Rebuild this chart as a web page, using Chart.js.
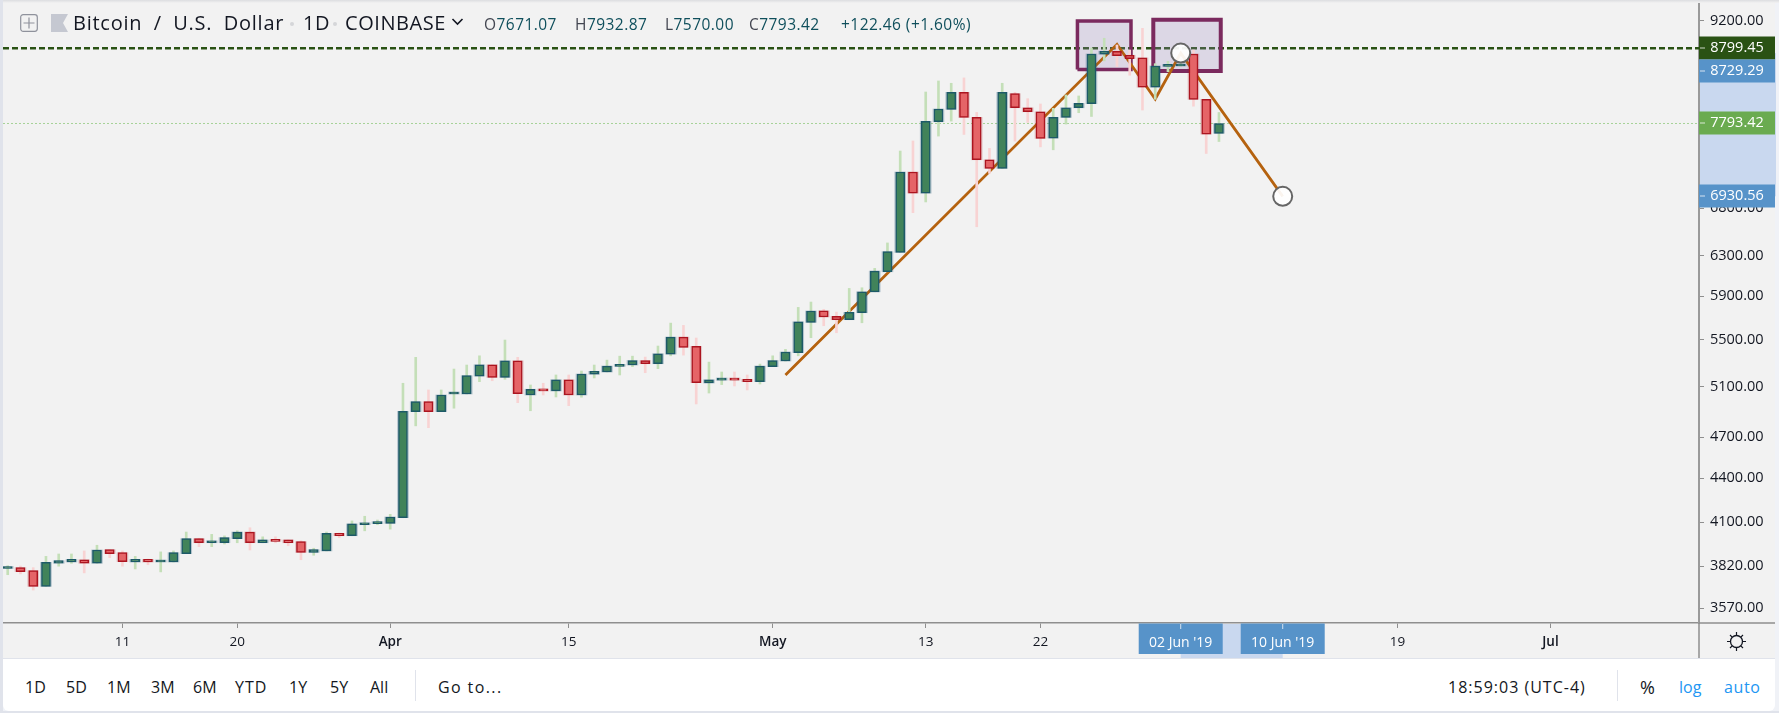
<!DOCTYPE html>
<html><head><meta charset="utf-8">
<script src="https://cdn.jsdelivr.net/npm/chart.js@4"></script>
<style>
html,body{margin:0;padding:0;background:#f0f2f7;overflow:hidden}
#wrap{position:relative;width:1779px;height:713px;font-family:"Open Sans",sans-serif;color:#131722}
#bg{position:absolute;left:3px;top:0;width:1772px;height:658px;background:#f2f2f2}
#topedge{position:absolute;left:0;top:0;width:1779px;height:3px;background:linear-gradient(#dcdde0,#f2f2f2)}
#leftedge{position:absolute;left:0;top:0;width:3px;height:713px;background:#e0e3eb}
#toolbar{position:absolute;left:3px;top:658px;width:1772px;height:53px;background:#fff;border-top:1px solid #e0e3eb;box-sizing:border-box;border-radius:0 0 6px 6px}
#botedge{position:absolute;left:0;top:711px;width:1779px;height:2px;background:#e0e3eb}
canvas{position:absolute;left:0;top:0}
.t{position:absolute;white-space:nowrap;line-height:20px;height:20px}
.h{font-size:20px;top:13px;color:#131722;letter-spacing:.45px}
.o{font-size:15.5px;top:14px;color:#0f4f5c;letter-spacing:.45px}
.o b{font-weight:400;color:#434651}
.b{font-size:16px;top:677px;color:#131722}
.sep{position:absolute;width:1px;background:#e0e3eb}
svg{position:absolute}
</style></head><body>
<div id="wrap">
<div id="bg"></div>
<canvas id="c" width="1779" height="713" style="width:1779px;height:713px"></canvas>
<div id="topedge"></div><div id="leftedge"></div><div id="toolbar"></div><div id="botedge"></div>

<svg style="left:20px;top:14px" width="18" height="18" viewBox="0 0 18 18"><rect x="0.7" y="0.7" width="16.6" height="16.6" rx="2.5" fill="none" stroke="#8f929c" stroke-width="1.2"/><path d="M9 3.5V14.5M3.5 9H14.5" stroke="#8f929c" stroke-width="1.2"/></svg>
<svg style="left:51px;top:14px" width="18" height="18" viewBox="0 0 18 18"><path d="M0 0H17L12 9L17 18H0Z" fill="#c5c8d1"/></svg>
<span class="t h" style="left:73px;letter-spacing:.75px;word-spacing:5.5px">Bitcoin / U.S. Dollar</span>
<svg style="left:289px;top:21px" width="6" height="6"><circle cx="3" cy="3" r="2" fill="#d5d6d9"/></svg>
<span class="t h" style="left:303px">1D</span>
<svg style="left:332px;top:21px" width="6" height="6"><circle cx="3" cy="3" r="2" fill="#d5d6d9"/></svg>
<span class="t h" style="left:345px;letter-spacing:.55px">COINBASE</span>
<svg style="left:451px;top:17px" width="13" height="9" viewBox="0 0 13 9"><path d="M1.5 2L6.5 7L11.5 2" fill="none" stroke="#131722" stroke-width="1.6"/></svg>
<span class="t o" style="left:484px"><b>O</b>7671.07</span>
<span class="t o" style="left:575px"><b>H</b>7932.87</span>
<span class="t o" style="left:665px"><b>L</b>7570.00</span>
<span class="t o" style="left:749px"><b>C</b>7793.42</span>
<span class="t o" style="left:841px">+122.46 (+1.60%)</span>

<span class="t b" style="left:25px">1D</span>
<span class="t b" style="left:66px">5D</span>
<span class="t b" style="left:107px">1M</span>
<span class="t b" style="left:151px">3M</span>
<span class="t b" style="left:193px">6M</span>
<span class="t b" style="left:235px;letter-spacing:1px">YTD</span>
<span class="t b" style="left:289px">1Y</span>
<span class="t b" style="left:330px">5Y</span>
<span class="t b" style="left:370px">All</span>
<div class="sep" style="left:415px;top:670px;height:31px"></div>
<span class="t b" style="left:438px;letter-spacing:1.4px">Go to...</span>
<span class="t b" style="left:1448px;letter-spacing:1px">18:59:03 (UTC-4)</span>
<div class="sep" style="left:1617px;top:670px;height:31px"></div>
<span class="t b" style="left:1640px;font-size:18px">%</span>
<span class="t b" style="left:1679px;color:#2196f3">log</span>
<span class="t b" style="left:1724px;color:#2196f3;letter-spacing:.6px">auto</span>
<svg style="left:1726px;top:631px" width="21" height="21" viewBox="0 0 21 21"><circle cx="10.5" cy="10.5" r="6" fill="none" stroke="#131722" stroke-width="1.3"/><path d="M10.5 1V4.5M10.5 16.5V20M4 4L6.2 6.2M17 4L14.8 6.2M4 17L6.2 14.8M17 17L14.8 14.8M1 10.5H4.5M16.5 10.5H20" stroke="#131722" stroke-width="1.2"/></svg>
</div>
<script>
const opens=[3805,3810,3792,3697,3837,3845,3859,3837,3922,3903,3845,3861,3845,3845,3897,3992,3966,3966,3992,4035,3966,3984,3984,3973,3905,3914,4026,4011,4083,4090,4092,4129,4899,4978,4899,5040,5040,5188,5283,5177,5317,5032,5079,5065,5157,5032,5203,5222,5270,5281,5320,5292,5375,5524,5442,5130,5153,5172,5161,5141,5267,5315,5387,5657,5763,5712,5681,5745,5942,6137,6332,7207,6967,7815,7973,8195,7870,7351,7250,8177,7993,7942,7612,7870,7993,8046,8713,8755,8699,8662,8262,8544,8550,8717,8103,7671.07];
const closes=[3811,3786,3697,3843,3853,3861,3837,3920,3897,3847,3861,3845,3853,3903,3992,3966,3975,3999,4035,3966,3984,3975,3966,3905,3922,4026,4011,4088,4096,4099,4134,4902,4978,4899,5032,5046,5191,5283,5177,5317,5043,5079,5065,5157,5032,5205,5228,5272,5287,5320,5292,5378,5524,5434,5133,5157,5172,5153,5141,5272,5320,5393,5662,5761,5706,5681,5748,5942,6144,6339,7207,6967,7820,7977,8195,7870,7351,7250,8195,7993,7942,7608,7870,7993,8051,8717,8755,8693,8652,8262,8550,8554,8568,8103,7661,7793.42];
const highs=[3822,3820,3810,3880,3895,3895,3914,3950,3922,3914,3880,3863,3908,3914,4035,3995,4020,4010,4043,4063,4004,4004,3984,3979,3931,4035,4028,4108,4139,4114,4152,5128,5347,5073,5073,5247,5281,5360,5283,5498,5347,5114,5128,5197,5197,5230,5281,5323,5357,5357,5349,5445,5650,5629,5516,5306,5222,5222,5197,5289,5360,5416,5795,5845,5777,5751,5975,5981,6171,6429,7455,7577,8199,8346,8315,8387,7934,7487,8315,8195,8111,8042,7986,8160,8147,8802,8940,8844,8773,9085,8582,8614,8634,8773,8103,7932.87];
const lows=[3767,3772,3675,3697,3819,3837,3778,3837,3872,3819,3802,3828,3784,3845,3897,3941,3941,3958,3966,3920,3966,3966,3947,3859,3887,3914,3999,4011,4043,4083,4054,4129,4788,4774,4899,4926,5040,5141,5149,5161,4970,4906,5032,5016,4946,5014,5172,5222,5197,5267,5216,5250,5360,5366,4960,5048,5117,5106,5073,5122,5267,5315,5360,5519,5626,5563,5681,5653,5942,6137,6332,6750,6868,7637,7823,7657,6599,7192,7250,7575,7807,7505,7470,7786,7930,7882,8620,8540,8423,7964,8103,8472,8544,8014,7426,7570];
const yTicks=[9200,8400,7600,6800,6300,5900,5500,5100,4700,4400,4100,3820,3570];
const xTickIndex=[9,18,30,44,60,72,81,92,100,109,121];
const xTickLabels=["11","20","Apr","15","May","13","22","","","19","Jul"];
const boldLabels=["Apr","May","Jul"];
const patternX=[61,87,90,92,100];
const patternY=[5197,8854,8107,8729.29,6930.56];
const box1X=[83.9,88.1], box1Y=[8500,9192];
const box2X=[89.85,95.14], box2Y=[8480,9212];
const lastPrice=7793.42, prevMark=8799.45;
const priceTags=[[8799.45,"#2a5214"],[8729.29,"#5793c9"],[7793.42,"#6aab50"],[6930.56,"#5793c9"]];
const dateTags=[[92,"02 Jun '19"],[100,"10 Jun '19"]];
const X_MIN=-0.37,X_MAX=132.65,Y_MIN=3485,Y_MAX=9509;
const FONT='"Open Sans",sans-serif';

const idx=opens.map((_,i)=>i);
const isUp=i=>closes[i]>=opens[i];
const rect=(xs,ys)=>[{x:xs[0],y:ys[0]},{x:xs[1],y:ys[0]},{x:xs[1],y:ys[1]},{x:xs[0],y:ys[1]},{x:xs[0],y:ys[0]}];
const boxStyle={type:'line',fill:'shape',backgroundColor:'rgba(155,135,190,.25)',borderColor:'#7b2a5e',pointRadius:0,tension:0,borderJoinStyle:'miter'};
const noPad=s=>{s.paddingLeft=0;s.paddingRight=0;s.paddingTop=0;s.paddingBottom=0};

const chrome={id:'chrome',
 beforeDatasetsDraw(ch){
  const c=ch.ctx,y=ch.scales.y,x=ch.scales.x,a=ch.chartArea;
  c.save();c.fillStyle='#c9d8ef';
  const t=y.getPixelForValue(8729.29),b=y.getPixelForValue(6930.56);
  c.fillRect(a.right+1,t,76,b-t);
  const l=x.getPixelForValue(92),r=x.getPixelForValue(100);
  c.fillRect(l,a.bottom+1,r-l,35);
  c.restore();
 },
 afterDraw(ch){
  const c=ch.ctx,y=ch.scales.y,x=ch.scales.x,a=ch.chartArea;
  c.save();
  c.strokeStyle='#8f8f8f';c.lineWidth=1.5;c.beginPath();c.moveTo(a.right,a.bottom);c.lineTo(1775,a.bottom);c.moveTo(a.right,a.bottom);c.lineTo(a.right,658);c.stroke();
  c.textBaseline='middle';c.textAlign='center';c.fillStyle='#fff';
  let prevBottom=-Infinity;
  for(const [v,col] of priceTags){
   let p=Math.round(y.getPixelForValue(v));
   if(p-11.5<prevBottom)p=prevBottom+11.5;
   prevBottom=p+11.5;
   c.fillStyle=col;c.fillRect(a.right,p-11.5,76,23);
   c.fillStyle='#fff';c.font='14.5px '+FONT;c.fillText(v.toFixed(2),1737,p);
   c.fillStyle='rgba(255,255,255,.75)';c.fillRect(a.right+1,p-.5,5,1);
  }
  for(const [i,s] of dateTags){
   const p=x.getPixelForValue(i);
   c.fillStyle='#5793c9';c.fillRect(p-42,a.bottom+.5,84,30.5);
   c.fillStyle='#fff';c.font='14px '+FONT;c.fillText(s,p,a.bottom+20);
   c.fillStyle='rgba(255,255,255,.75)';c.fillRect(p-.5,a.bottom+1,1,5);
  }
  c.restore();
 }};

new Chart(document.getElementById('c'),{
 type:'bar',
 data:{labels:idx,datasets:[
  {type:'line',data:[{x:X_MIN,y:lastPrice},{x:X_MAX,y:lastPrice}],borderColor:'#a6d298',borderWidth:1,borderDash:[2,2],pointRadius:0,order:9},
  {type:'line',data:[{x:X_MIN,y:prevMark},{x:X_MAX,y:prevMark}],borderColor:'#2a5214',borderWidth:2.5,borderDash:[6,3],pointRadius:0,order:8},
  {...boxStyle,data:rect(box1X,box1Y),borderWidth:3.5,order:7},
  {...boxStyle,data:rect(box2X,box2Y),borderWidth:4,order:6},
  {type:'line',data:patternX.map((x,i)=>({x,y:patternY[i]})),borderColor:'#b5620f',borderWidth:2.8,pointRadius:0,tension:0,order:5},
  {data:idx.map(i=>({x:i,y:[lows[i],highs[i]]})),backgroundColor:idx.map(i=>isUp(i)?'#c4dfb8':'#f8d3d3'),barThickness:2,borderWidth:0,grouped:false,order:4},
  {data:idx.map(i=>({x:i,y:[opens[i],closes[i]]})),backgroundColor:idx.map(i=>isUp(i)?'rgba(40,90,120,.3)':'rgba(170,30,40,.22)'),barThickness:11,borderWidth:0,minBarLength:2,grouped:false,order:3},
  {data:idx.map(i=>({x:i,y:[opens[i],closes[i]]})),backgroundColor:idx.map(i=>isUp(i)?'#41835a':'#e56467'),borderColor:idx.map(i=>isUp(i)?'#1d5a68':'#ab1520'),borderWidth:1.5,borderSkipped:false,barThickness:9,minBarLength:2,grouped:false,order:2},
  {type:'line',data:patternX.slice(3).map((x,i)=>({x,y:patternY[i+3]})),showLine:false,pointRadius:9.5,pointBackgroundColor:'rgba(255,255,255,.93)',pointBorderColor:'#666',pointBorderWidth:2,order:0}
 ]},
 options:{
  responsive:false,animation:false,devicePixelRatio:1,
  layout:{autoPadding:false,padding:{left:3,top:0,right:0,bottom:0}},
  plugins:{legend:{display:false},tooltip:{enabled:false},title:{display:false}},
  scales:{
   x:{type:'linear',min:X_MIN,max:X_MAX,offset:false,
    afterBuildTicks(s){s.ticks=xTickIndex.map(value=>({value}))},
    afterFit(s){s.height=90;noPad(s)},
    grid:{offset:false,drawOnChartArea:false,tickLength:5,tickColor:'#8f8f8f',tickWidth:1},
    border:{color:'#8f8f8f',width:1.5},
    ticks:{autoSkip:false,maxRotation:0,padding:6,color:'#131722',
     callback:v=>xTickLabels[xTickIndex.indexOf(v)],
     font:ctx=>({family:FONT,size:13.5,weight:boldLabels.includes(xTickLabels[xTickIndex.indexOf(ctx.tick&&ctx.tick.value)])?'600':'400'})}},
   y:{type:'logarithmic',position:'right',min:Y_MIN,max:Y_MAX,
    afterBuildTicks(s){s.ticks=yTicks.map(value=>({value}))},
    afterFit(s){s.width=80;noPad(s)},
    grid:{drawOnChartArea:false,tickLength:5,tickColor:'#8f8f8f',tickWidth:1},
    border:{color:'#9a9a9a',width:2},
    ticks:{autoSkip:false,padding:6,color:'#131722',font:{family:FONT,size:14.5},callback:v=>Number(v).toFixed(2)}}
  }
 },
 plugins:[chrome]
});
</script>
</body></html>
